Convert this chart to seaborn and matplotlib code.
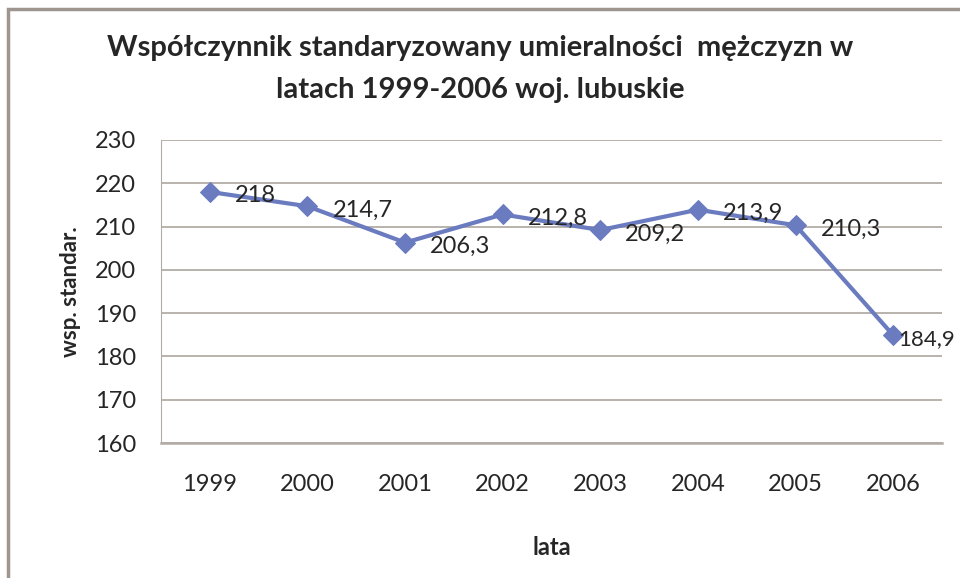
import numpy as np
import pandas as pd
import seaborn as sns
import matplotlib.pyplot as plt
from matplotlib.patches import Rectangle

# dane
lata = [1999, 2000, 2001, 2002, 2003, 2004, 2005, 2006]
wsp = [218, 214.7, 206.3, 212.8, 209.2, 213.9, 210.3, 184.9]
etykiety = ["218", "214,7", "206,3", "212,8", "209,2", "213,9", "210,3", "184,9"]

df = pd.DataFrame({"lata": lata, "wsp": wsp})

sns.set_style("white")
plt.rcParams['font.family'] = ['Lato', 'DejaVu Sans']

fig = plt.figure(figsize=(9.6, 5.78), dpi=100)
ax = fig.add_axes([161/960, 1-443/578, 781/960, 303/578])

line_col = "#6a7bbf"
grid_col = "#b3aca6"
txt_col = "#262626"
sns.lineplot(data=df, x="lata", y="wsp", ax=ax, color=line_col, linewidth=3,
             marker="D", markersize=10, markeredgecolor=line_col)

# etykiety danych
for i, (x, y) in enumerate(zip(lata, wsp)):
    dx = 5 if i == len(lata) - 1 else 25
    ax.annotate(etykiety[i], (x, y), xytext=(dx, -4), textcoords="offset pixels",
                ha="left", va="center", fontsize=17 if i < len(lata) - 1 else 16,
                color=txt_col, annotation_clip=False)

ax.set_ylim(160, 230)
ax.set_yticks(range(160, 231, 10))
ax.set_xlim(1998.5, 2006.5)
ax.set_xticks(lata)
ax.yaxis.grid(True, color=grid_col, linewidth=1.3)
ax.xaxis.grid(False)
for s in ["top", "right"]:
    ax.spines[s].set_visible(False)
ax.spines["left"].set_color(grid_col)
ax.spines["bottom"].set_color(grid_col)
ax.spines["bottom"].set_linewidth(1.8)
ax.tick_params(axis="y", length=8, color=grid_col, labelsize=17, labelcolor=txt_col, pad=10)
ax.tick_params(axis="x", length=0, labelsize=17, labelcolor=txt_col, pad=22)

ax.set_xlabel("lata", fontsize=17, fontweight="bold", labelpad=30, color=txt_col)
ax.set_ylabel("wsp. standar.", fontsize=16, fontweight="bold", labelpad=10, color=txt_col)

fig.text(0.5, 1-48/578, "Współczynnik standaryzowany umieralności  mężczyzn w",
         ha="center", va="center", fontsize=21, fontweight="bold", color=txt_col)
fig.text(0.5, 1-90/578, "latach 1999-2006 woj. lubuskie",
         ha="center", va="center", fontsize=21, fontweight="bold", color=txt_col)

# ramka wykresu
fig.patches.append(Rectangle((8/960, -0.05), 1.1, 1-9/578+0.05, transform=fig.transFigure,
                             fill=False, edgecolor="#9e958e", linewidth=2.5))

fig.savefig("out.png", dpi=100)
